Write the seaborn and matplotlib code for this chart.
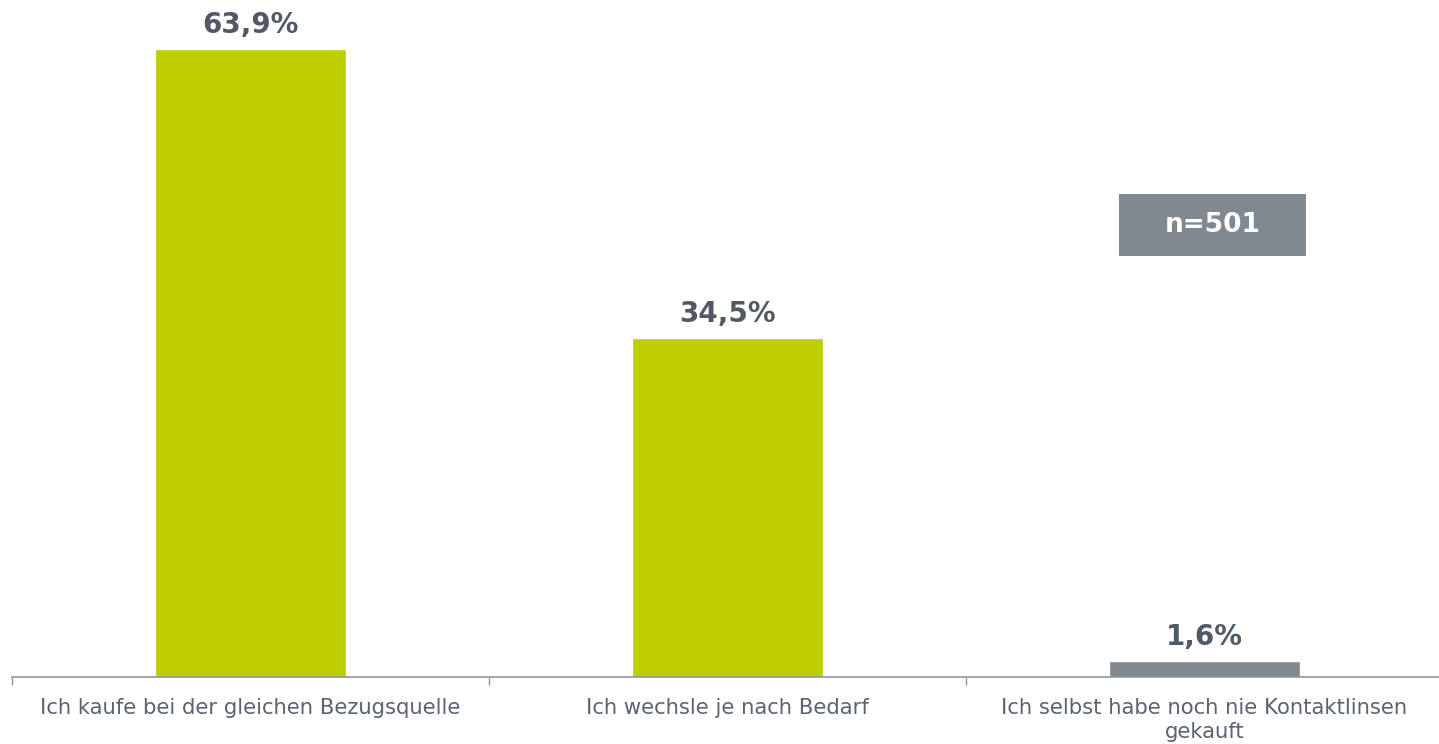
import matplotlib
matplotlib.use("Agg")
import matplotlib.pyplot as plt
import seaborn as sns
import pandas as pd
from matplotlib.patches import Rectangle

categories = ["Ich kaufe bei der gleichen Bezugsquelle",
              "Ich wechsle je nach Bedarf",
              "Ich selbst habe noch nie Kontaktlinsen\ngekauft"]
values = [63.9, 34.5, 1.6]
value_labels = ["63,9%", "34,5%", "1,6%"]
bar_colors = ["#BFCE00", "#BFCE00", "#808890"]
sample_note = "n=501"

sns.set_theme(style="white")
plt.rcParams['font.family'] = ['DejaVu Sans']

W, H = 1439, 744
fig = plt.figure(figsize=(W / 100, H / 100), dpi=100)
ax = fig.add_axes([12 / W, (H - 677) / H, (1443 - 12) / W, 677 / H])

df = pd.DataFrame({"cat": categories, "val": values})
sns.barplot(data=df, x="cat", y="val", hue="cat", palette=bar_colors,
            width=0.4, legend=False, ax=ax, saturation=1)

ax.set_xlim(-0.5, 2.5)
ax.set_ylim(0, 677 / 9.83)
ax.set_xlabel("")
ax.set_ylabel("")
ax.set_yticks([])
for s in ["top", "right", "left"]:
    ax.spines[s].set_visible(False)
ax.spines["bottom"].set_color("#8E969E")
ax.spines["bottom"].set_linewidth(1.2)

ax.set_xticks(range(len(categories)))
ax.set_xticklabels(categories, fontsize=15.2, color="#5A6470", linespacing=1.25)
ax.tick_params(axis="x", which="major", length=0, pad=15)
ax.set_xticks([-0.5, 0.5, 1.5, 2.5], minor=True)
ax.tick_params(axis="x", which="minor", bottom=True, length=6, width=1,
               color="#8E969E", direction="out")

for i, (v, lab) in enumerate(zip(values, value_labels)):
    ax.annotate(lab, xy=(i, v), xytext=(0, 11.5), textcoords="offset points",
                ha="center", va="baseline", fontsize=20, fontweight="bold",
                color="#505A66")

# sample size box
fig.patches.append(Rectangle((1119 / W, (H - 256) / H), 187 / W, 62 / H,
                             transform=fig.transFigure, facecolor="#808890",
                             edgecolor="none", zorder=5))
fig.text((1119 + 187 / 2) / W, (H - 225) / H, sample_note, ha="center", va="center",
         fontsize=19, fontweight="bold", color="white", zorder=6)

fig.savefig("out.png", dpi=100)
